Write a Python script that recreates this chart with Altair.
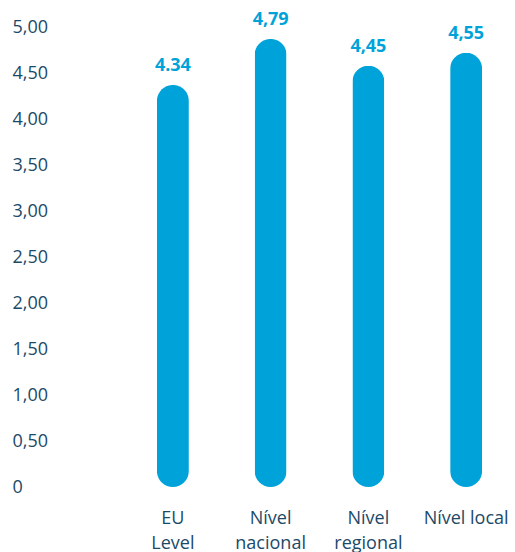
import altair as alt
import pandas as pd

categories = ["EU\nLevel", "Nível\nnacional", "Nível\nregional", "Nível local"]
bar_heights = [4.37, 4.87, 4.58, 4.72]
value_labels = ["4.34", "4,79", "4,45", "4,55"]
y_ticks = [0, 0.5, 1, 1.5, 2, 2.5, 3, 3.5, 4, 4.5, 5]

df = pd.DataFrame({"cat": categories, "h": bar_heights, "lab": value_labels})

BLUE = "#00a3d9"
TEXT = "#1b4a68"
FONT = "Open Sans"

x = alt.X("cat:N", sort=categories, title=None,
          scale=alt.Scale(paddingInner=0, paddingOuter=0),
          axis=alt.Axis(labelAngle=0, ticks=False, domain=False, grid=False,
                        labelExpr="split(datum.label, '\\n')",
                        labelFont=FONT, labelFontSize=18, labelColor=TEXT,
                        labelLineHeight=25, labelPadding=22, labelBaseline="top"))
y = alt.Y("h:Q", title=None,
          scale=alt.Scale(domain=[0, 5], nice=False, zero=True),
          axis=alt.Axis(values=y_ticks, ticks=False, domain=False, grid=False,
                        labelAlign="left", labelPadding=112, labelBaseline="middle",
                        labelExpr="datum.value == 0 ? '0' : replace(format(datum.value, '.2f'), '.', ',')",
                        labelFont=FONT, labelFontSize=18, labelColor=TEXT))

bars = alt.Chart(df).mark_bar(width=32, cornerRadius=16, color=BLUE).encode(x=x, y=y)
texts = alt.Chart(df).mark_text(font=FONT, fontSize=18, fontWeight="bold", color=BLUE,
                                baseline="middle", dy=-19).encode(
    x=alt.X("cat:N", sort=categories), y=alt.Y("h:Q"), text="lab:N")

chart = (bars + texts).properties(
    width=391, height=460,
    autosize=alt.AutoSizeParams(type="none"),
    padding={"left": 124, "top": 27, "right": 0, "bottom": 65},
).configure_view(stroke=None)

chart.save("out.html", embed_options={"renderer": "svg", "actions": False})
